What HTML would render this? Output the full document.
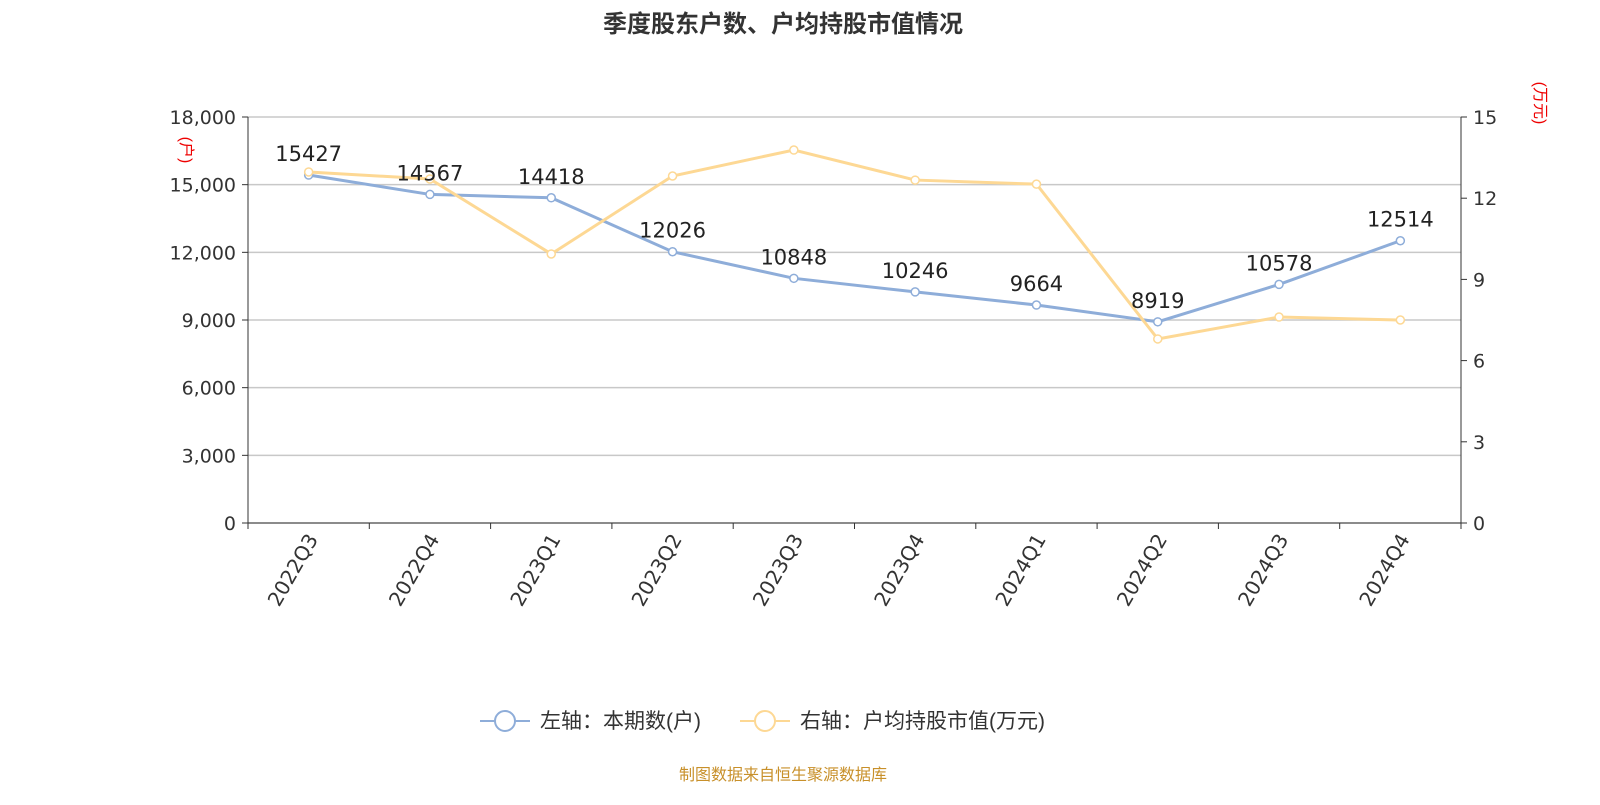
<!DOCTYPE html>
<html><head><meta charset="utf-8"><style>
body{margin:0;background:#fff;font-family:"Liberation Sans","Noto Sans CJK SC",sans-serif;}
</style></head><body>
<svg width="1600" height="800" xmlns="http://www.w3.org/2000/svg" style="font-family:'Liberation Sans','Noto Sans CJK SC',sans-serif">
<text x="783" y="32" text-anchor="middle" font-size="24" font-weight="bold" fill="#333">季度股东户数、户均持股市值情况</text>
<g id="grid"></g><g id="axes"></g><g id="marks"></g>
<text transform="translate(181,150) rotate(90)" text-anchor="middle" font-size="16" fill="#e00">(户)</text>
<text transform="translate(1535,103) rotate(90)" text-anchor="middle" font-size="16" fill="#e00">(万元)</text>
<g>
<line x1="480" y1="721" x2="530" y2="721" stroke="#8eadd9" stroke-width="2"/><circle cx="505" cy="721" r="10" fill="#fff" stroke="#8eadd9" stroke-width="2"/>
<text x="540" y="728" font-size="21" fill="#333">左轴：本期数(户)</text></g>
<g>
<line x1="740" y1="721" x2="790" y2="721" stroke="#fdd894" stroke-width="2"/><circle cx="765" cy="721" r="10" fill="#fff" stroke="#fdd894" stroke-width="2"/>
<text x="800" y="728" font-size="21" fill="#333">右轴：户均持股市值(万元)</text></g>
<text x="783" y="780" text-anchor="middle" font-size="16" fill="#c8902a">制图数据来自恒生聚源数据库</text>
</svg>
<script>
const categories=["2022Q3","2022Q4","2023Q1","2023Q2","2023Q3","2023Q4","2024Q1","2024Q2","2024Q3","2024Q4"];
const holders=[15427,14567,14418,12026,10848,10246,9664,8919,10578,12514];
const avgValue=[12.97,12.71,9.94,12.82,13.78,12.67,12.52,6.80,7.61,7.50];
const leftTicks=[0,3000,6000,9000,12000,15000,18000];
const rightTicks=[0,3,6,9,12,15];
const NS="http://www.w3.org/2000/svg";
const X0=248,X1=1461,Y0=523,Y1=117;
const NUMF="'DejaVu Sans',sans-serif";
const bw=(X1-X0)/categories.length;
const x=i=>X0+bw*(i+0.5);
const yL=v=>Y0-(v/18000)*(Y0-Y1);
const yR=v=>Y0-(v/15)*(Y0-Y1);
function mk(tag,attrs,parent,text){const e=document.createElementNS(NS,tag);for(const k in attrs)e.setAttribute(k,attrs[k]);if(text!==undefined)e.textContent=text;parent.appendChild(e);return e;}
const grid=document.getElementById('grid'),axes=document.getElementById('axes'),marks=document.getElementById('marks');
leftTicks.forEach(t=>{
 const l=mk('line',{x1:X0,x2:X1,y1:yL(t),y2:yL(t),stroke:'#c8c8c8','stroke-width':1.5},grid);
 
 
 mk('line',{x1:X0-6,x2:X0,y1:yL(t),y2:yL(t),stroke:'#333'},axes);
 const tx=mk('text',{x:X0-12,y:yL(t)+7,'text-anchor':'end','font-size':19,fill:'#333','font-family':NUMF},axes,t.toLocaleString('en-US'));
 
 
});
rightTicks.forEach(t=>{
 mk('line',{x1:X1,x2:X1+6,y1:yR(t),y2:yR(t),stroke:'#333'},axes);
 const tx=mk('text',{x:X1+12,y:yR(t)+7,'font-size':19,fill:'#333','font-family':NUMF},axes,String(t));
 
 
});
mk('line',{x1:X0,x2:X0,y1:Y1,y2:Y0,stroke:'#333'},axes);
mk('line',{x1:X1,x2:X1,y1:Y1,y2:Y0,stroke:'#333'},axes);
mk('line',{x1:X0,x2:X1,y1:Y0,y2:Y0,stroke:'#333'},axes);
for(let i=0;i<=categories.length;i++)mk('line',{x1:X0+bw*i,x2:X0+bw*i,y1:Y0,y2:Y0+6,stroke:'#333'},axes);
categories.forEach((c,i)=>{
 const tx=mk('text',{transform:`translate(${x(i)+10},${Y0+16}) rotate(-60)`,'text-anchor':'end','font-size':20,fill:'#333','font-family':NUMF},axes,c);
 
 
});
const pl=mk('polyline',{points:holders.map((v,i)=>x(i)+','+yL(v)).join(' '),fill:'none',stroke:'#8eadd9','stroke-width':3},marks);


const pr=mk('polyline',{points:avgValue.map((v,i)=>x(i)+','+yR(v)).join(' '),fill:'none',stroke:'#fdd894','stroke-width':3},marks);


holders.forEach((v,i)=>{
 const c=mk('circle',{cx:x(i),cy:yL(v),r:4,fill:'#fff',stroke:'#8eadd9','stroke-width':1.5},marks);
 
 
});
avgValue.forEach((v,i)=>{
 const c=mk('circle',{cx:x(i),cy:yR(v),r:4,fill:'#fff',stroke:'#fdd894','stroke-width':1.5},marks);
 
 
});
holders.forEach((v,i)=>{
 const t=mk('text',{x:x(i),y:yL(v)-14,'text-anchor':'middle','font-size':21,fill:'#222','font-family':NUMF},marks,String(v));
 
 
});
</script>
</body></html>
